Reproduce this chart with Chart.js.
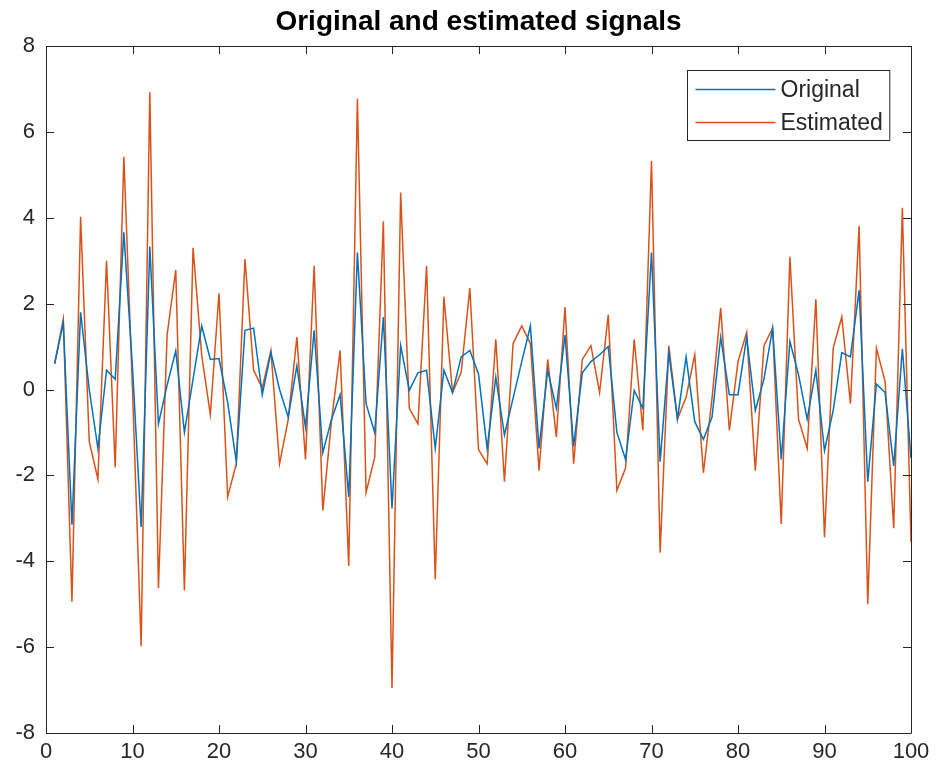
<!DOCTYPE html>
<html>
<head>
<meta charset="utf-8">
<script src="https://cdn.jsdelivr.net/npm/chart.js@4.4.1/dist/chart.umd.min.js"></script>
<style>
  html, body { margin: 0; padding: 0; background: #fff; }
  #wrap { width: 938px; height: 776px; position: relative; }
</style>
</head>
<body>
<div id="wrap"><canvas id="sig"></canvas></div>
<script>
// sample index 1..100
const sampleIndex = Array.from({ length: 100 }, (_, i) => i + 1);

const originalSignal = [
  0.6, 1.55, -3.15, 1.8, 0.0, -1.37, 0.45, 0.24, 3.66, 0.5,
  -3.2, 3.33, -0.8, 0.1, 0.9, -1.0, 0.24, 1.48, 0.7, 0.72,
  -0.3, -1.68, 1.38, 1.43, -0.12, 0.86, 0.0, -0.64, 0.55, -0.88,
  1.38, -1.47, -0.7, -0.12, -2.5, 3.19, -0.33, -1.0, 1.69, -2.77,
  1.02, -0.02, 0.39, 0.45, -1.37, 0.45, -0.07, 0.76, 0.91, 0.36,
  -1.37, 0.29, -1.06, -0.2, 0.65, 1.48, -1.37, 0.45, -0.44, 1.27,
  -1.32, 0.39, 0.65, 0.81, 1.0, -1.0, -1.63, -0.02, -0.44, 3.19,
  -1.68, 0.86, -0.69, 0.76, -0.75, -1.16, -0.64, 1.22, -0.12, -0.12,
  1.22, -0.49, 0.24, 1.43, -1.63, 1.12, 0.34, -0.69, 0.45, -1.42,
  -0.49, 0.86, 0.76, 2.31, -2.15, 0.13, -0.07, -1.78, 0.95, -1.6
];

const estimatedSignal = [
  0.6, 1.64, -4.94, 4.02, -1.21, -2.09, 3.0, -1.81, 5.42, 0.0,
  -5.98, 6.92, -4.63, 1.27, 2.78, -4.68, 3.3, 0.8, -0.59, 2.24,
  -2.5, -1.73, 3.04, 0.45, 0.03, 0.91, -1.73, -0.7, 1.22, -1.63,
  2.88, -2.82, -0.75, 0.91, -4.11, 6.77, -2.4, -1.58, 3.92, -6.95,
  4.59, -0.44, -0.8, 2.88, -4.42, 2.16, -0.07, 0.4, 2.36, -1.4,
  -1.73, 1.17, -2.15, 1.07, 1.48, 1.07, -1.89, 0.7, -1.11, 1.92,
  -1.73, 0.7, 1.02, -0.07, 1.74, -2.35, -1.83, 1.17, -0.95, 5.32,
  -3.8, 1.02, -0.69, -0.18, 0.81, -1.94, -0.2, 1.9, -0.95, 0.65,
  1.33, -1.89, 1.02, 1.43, -3.13, 3.09, -0.69, -1.37, 2.1, -3.44,
  0.96, 1.69, -0.33, 3.81, -5.0, 0.96, 0.19, -3.23, 4.23, -3.55
];

const seriesNames = ['Original', 'Estimated'];
const chartTitle = 'Original and estimated signals';
const xTicks = [0, 10, 20, 30, 40, 50, 60, 70, 80, 90, 100];
const yTicks = [-8, -6, -4, -2, 0, 2, 4, 6, 8];

const axisColor = '#262626';
const fontFamily = '"Liberation Sans", Arial, Helvetica, sans-serif';
const labelSize = 22;
const legendSize = 23;

// title centred over the axes, not over the whole canvas
const axesTitle = {
  id: 'axesTitle',
  afterDraw(chart) {
    const { ctx, chartArea: a } = chart;
    ctx.save();
    ctx.font = 'bold 28px ' + fontFamily;
    ctx.fillStyle = '#000';
    ctx.textAlign = 'center';
    ctx.textBaseline = 'middle';
    ctx.fillText(chartTitle, (a.left + a.right) / 2, 22);
    ctx.restore();
  }
};

// box around the axes with ticks pointing inward (matlab style)
const boxTicks = {
  id: 'boxTicks',
  afterDatasetsDraw(chart) {
    const { ctx, chartArea: a, scales: { x, y } } = chart;
    const len = 8;
    ctx.save();
    ctx.strokeStyle = axisColor;
    ctx.lineWidth = 1;
    ctx.beginPath();
    ctx.rect(Math.round(a.left) + 0.5, Math.round(a.top) + 0.5,
      Math.round(a.right - a.left), Math.round(a.bottom - a.top));
    xTicks.forEach(v => {
      const px = Math.round(x.getPixelForValue(v)) + 0.5;
      ctx.moveTo(px, a.bottom); ctx.lineTo(px, a.bottom - len);
      ctx.moveTo(px, a.top); ctx.lineTo(px, a.top + len);
    });
    yTicks.forEach(v => {
      const py = Math.round(y.getPixelForValue(v)) + 0.5;
      ctx.moveTo(a.left, py); ctx.lineTo(a.left + len, py);
      ctx.moveTo(a.right, py); ctx.lineTo(a.right - len, py);
    });
    ctx.stroke();
    ctx.restore();
  }
};

// legend box in the top right corner of the axes
const insideLegend = {
  id: 'insideLegend',
  afterDraw(chart) {
    const { ctx, chartArea: a } = chart;
    ctx.save();
    ctx.font = legendSize + 'px ' + fontFamily;
    const textW = Math.max(...chart.data.datasets.map(d => ctx.measureText(d.label).width));
    const lineLen = 80, gap = 5, pad = 8, rowH = 33;
    const w = pad + lineLen + gap + textW + 7;
    const h = rowH * chart.data.datasets.length + 4;
    const bx = Math.round(a.right - 22 - w) + 0.5;
    const by = Math.round(a.top + 24) + 0.5;
    ctx.fillStyle = '#fff';
    ctx.fillRect(bx, by, w, h);
    ctx.strokeStyle = axisColor;
    ctx.lineWidth = 1;
    ctx.strokeRect(bx, by, w, h);
    chart.data.datasets.forEach((d, i) => {
      const cy = by + 19 + i * rowH;
      ctx.strokeStyle = d.borderColor;
      ctx.lineWidth = 1.5;
      ctx.beginPath();
      ctx.moveTo(bx + pad, cy);
      ctx.lineTo(bx + pad + lineLen, cy);
      ctx.stroke();
      ctx.fillStyle = axisColor;
      ctx.textBaseline = 'middle';
      ctx.fillText(d.label, bx + pad + lineLen + gap, cy + 1);
    });
    ctx.restore();
  }
};

new Chart(document.getElementById('sig'), {
  type: 'line',
  data: {
    datasets: [
      {
        label: seriesNames[0],
        data: sampleIndex.map((n, i) => ({ x: n, y: originalSignal[i] })),
        borderColor: '#0072BD',
        borderWidth: 1.5,
        pointRadius: 0,
        tension: 0,
        fill: false,
      },
      {
        label: seriesNames[1],
        data: sampleIndex.map((n, i) => ({ x: n, y: estimatedSignal[i] })),
        borderColor: '#D95319',
        borderWidth: 1.5,
        pointRadius: 0,
        tension: 0,
        fill: false,
      },
    ],
  },
  options: {
    responsive: true,
    maintainAspectRatio: false,
    animation: false,
    layout: { padding: { left: 0, right: 27, top: 46, bottom: 0 } },
    plugins: {
      legend: { display: false },
      tooltip: { enabled: false },
      title: { display: false },
    },
    scales: {
      x: {
        type: 'linear',
        min: 0,
        max: 100,
        afterBuildTicks: s => { s.ticks = xTicks.map(v => ({ value: v })); },
        afterFit: s => { s.height = 43; },
        grid: { display: false, drawTicks: false },
        border: { display: false },
        ticks: { color: axisColor, padding: 6, maxRotation: 0, font: { family: fontFamily, size: labelSize } },
      },
      y: {
        min: -8,
        max: 8,
        afterBuildTicks: s => { s.ticks = yTicks.map(v => ({ value: v })); },
        afterFit: s => { s.width = 46; },
        grid: { display: false, drawTicks: false },
        border: { display: false },
        ticks: { color: axisColor, padding: 11, font: { family: fontFamily, size: labelSize } },
      },
    },
  },
  plugins: [axesTitle, boxTicks, insideLegend],
});
</script>
</body>
</html>
